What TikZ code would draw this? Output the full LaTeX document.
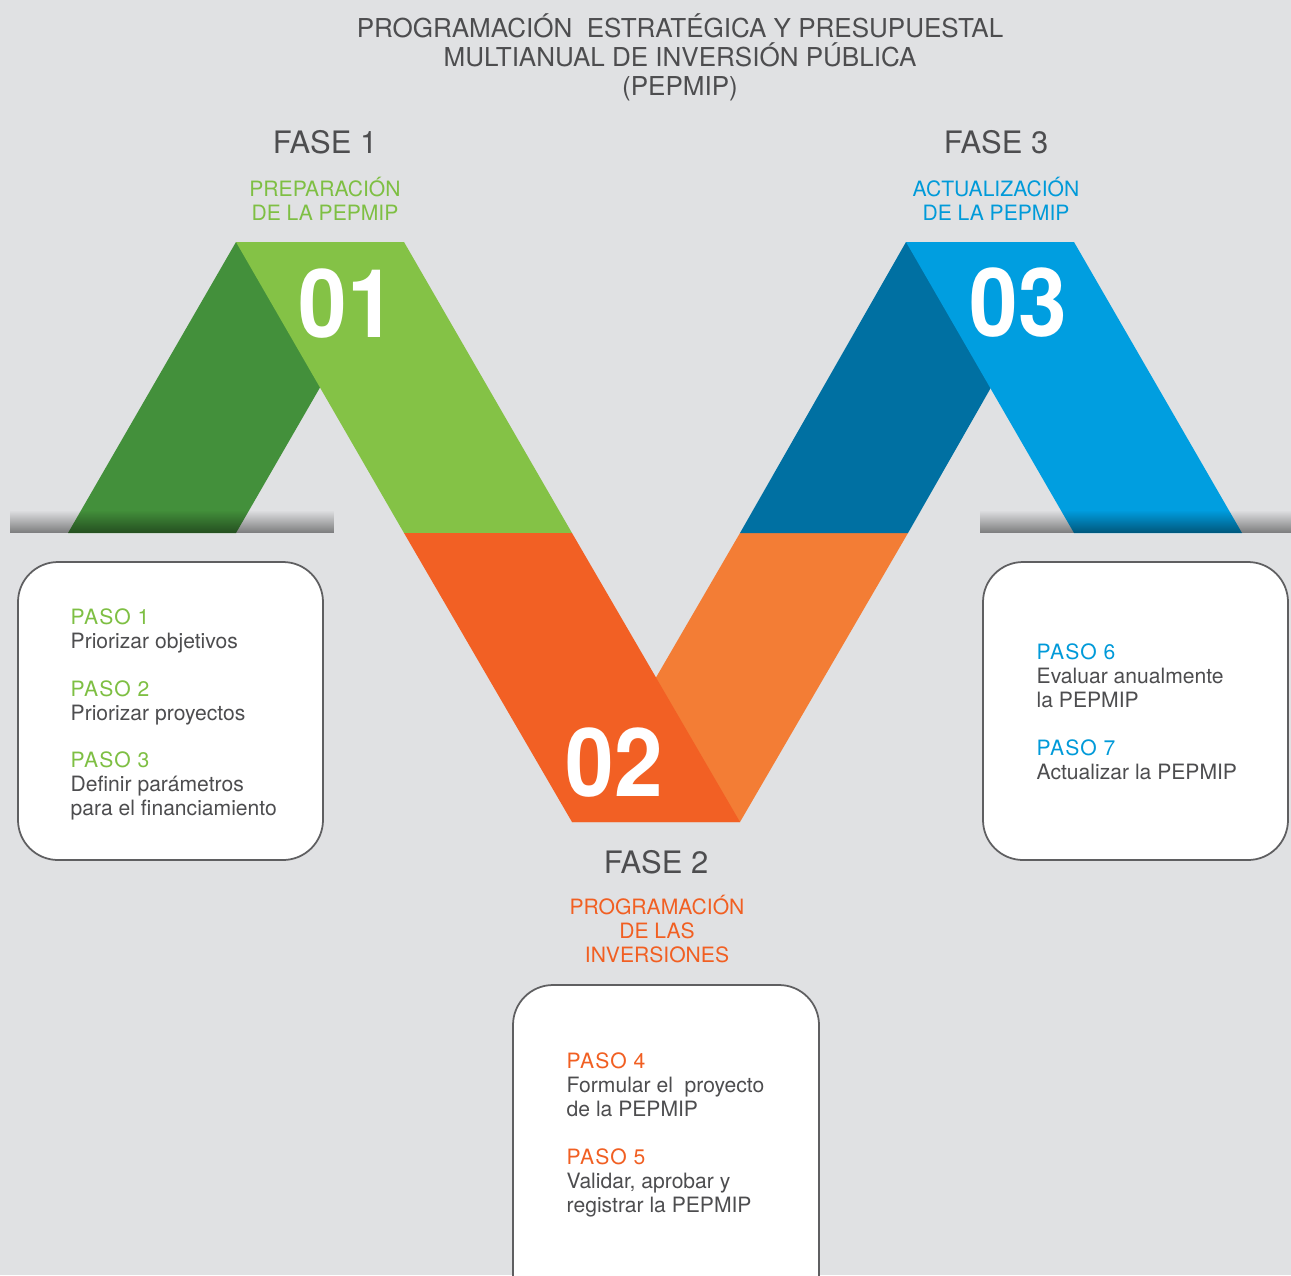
\documentclass[tikz,border=0pt]{standalone}
\usepackage{fontspec}
\setmainfont{TeX Gyre Heros}
\newfontfamily\pasofont[LetterSpace=5]{TeX Gyre Heros}
\usetikzlibrary{fadings}

\definecolor{fondo}{HTML}{E0E1E3}
\definecolor{verdeosc}{HTML}{43903B}
\definecolor{verdecla}{HTML}{84C246}
\definecolor{naranjaosc}{HTML}{F26024}
\definecolor{naranjacla}{HTML}{F37D35}
\definecolor{azulosc}{HTML}{0070A2}
\definecolor{azulcla}{HTML}{009EE0}
\definecolor{txtverde}{HTML}{7EBF43}
\definecolor{txtazul}{HTML}{009AD9}
\definecolor{txtnaranja}{HTML}{F15F22}
\definecolor{txtgris}{HTML}{4D4D4F}
\definecolor{borde}{HTML}{5F5F61}

\begin{document}
\begin{tikzpicture}[x=0.01cm,y=-0.01cm,
  caja/.style={draw=borde, fill=white, line width=0.5pt, rounded corners=0.4cm},
  numero/.style={anchor=base, text=white, font=\fontsize{27}{27}\selectfont\bfseries},
  fase/.style={anchor=base, text=txtgris, font=\fontsize{8.8}{10}\selectfont},
  subfase/.style={anchor=north, align=center, inner sep=0pt, font=\fontsize{6}{6.83}\selectfont},
  pasos/.style={anchor=north west, align=left, inner sep=0pt, text=txtgris, font=\fontsize{6}{6.83}\selectfont}]
\clip (0,0) rectangle (1291,1275);
\fill[fondo] (0,0) rectangle (1291,1275);

% cintas
\fill[verdeosc] (68,533) -- (236,242) -- (404,242) -- (236,533) -- cycle;
\fill[verdecla] (236,242) -- (404,242) -- (572,533) -- (404,533) -- cycle;
\fill[naranjacla] (572,822) -- (740,533) -- (908,533) -- (740,822) -- cycle;
\fill[naranjaosc] (404,533) -- (572,533) -- (740,822) -- (572,822) -- cycle;
\fill[azulosc] (740,533) -- (906,242) -- (1074,242) -- (908,533) -- cycle;
\fill[azulcla] (906,242) -- (1074,242) -- (1242,533) -- (1074,533) -- cycle;

% sombras
\fill[black, opacity=0.45, path fading=north] (10,510) rectangle (334,533);
\fill[black, opacity=0.45, path fading=north] (980,510) rectangle (1291,533);

\node[numero] (n1) at (347,337) {\scalebox{0.92}[1]{01}};
\node[numero] (n2) at (614,796) {\scalebox{0.92}[1]{02}};
\node[numero] (n3) at (1018,336) {\scalebox{0.92}[1]{03}};

% titulo
\node[anchor=north, align=center, inner sep=0pt, text=txtgris,
  font=\fontsize{7.4}{8.25}\selectfont] (titulo) at (680,13)
  {PROGRAMACIÓN\ \ ESTRATÉGICA Y PRESUPUESTAL\\MULTIANUAL DE INVERSIÓN PÚBLICA\\(PEPMIP)};

\node[fase] (fase1) at (325,153) {FASE 1};
\node[fase] (fase2) at (656,873) {FASE 2};
\node[fase] (fase3) at (996,153) {FASE 3};

\node[subfase, text=txtverde] (sub1) at (325,176) {PREPARACIÓN\\DE LA PEPMIP};
\node[subfase, text=txtnaranja] (sub2) at (657,894) {PROGRAMACIÓN\\DE LAS\\INVERSIONES};
\node[subfase, text=txtazul] (sub3) at (996,176) {ACTUALIZACIÓN\\DE LA PEPMIP};

% cajas
\draw[caja] (18,562) rectangle (323,860);
\draw[caja] (983,562) rectangle (1288,860);
\draw[caja] (513,985) rectangle (819,1320);

\node[pasos] (pasos1) at (70,608)
  {\textcolor{txtverde}{\pasofont PASO 1}\\Priorizar objetivos\\[6.7pt]
   \textcolor{txtverde}{\pasofont PASO 2}\\Priorizar proyectos\\[6.7pt]
   \textcolor{txtverde}{\pasofont PASO 3}\\Definir parámetros\\para el financiamiento};
\node[pasos] (pasos2) at (566,1052)
  {\textcolor{txtnaranja}{\pasofont PASO 4}\\Formular el\ \ proyecto\\de la PEPMIP\\[6.7pt]
   \textcolor{txtnaranja}{\pasofont PASO 5}\\Validar, aprobar y\\registrar la PEPMIP};
\node[pasos] (pasos3) at (1036,643)
  {\textcolor{txtazul}{\pasofont PASO 6}\\Evaluar anualmente\\la PEPMIP\\[6.7pt]
   \textcolor{txtazul}{\pasofont PASO 7}\\Actualizar la PEPMIP};
\end{tikzpicture}
\end{document}
